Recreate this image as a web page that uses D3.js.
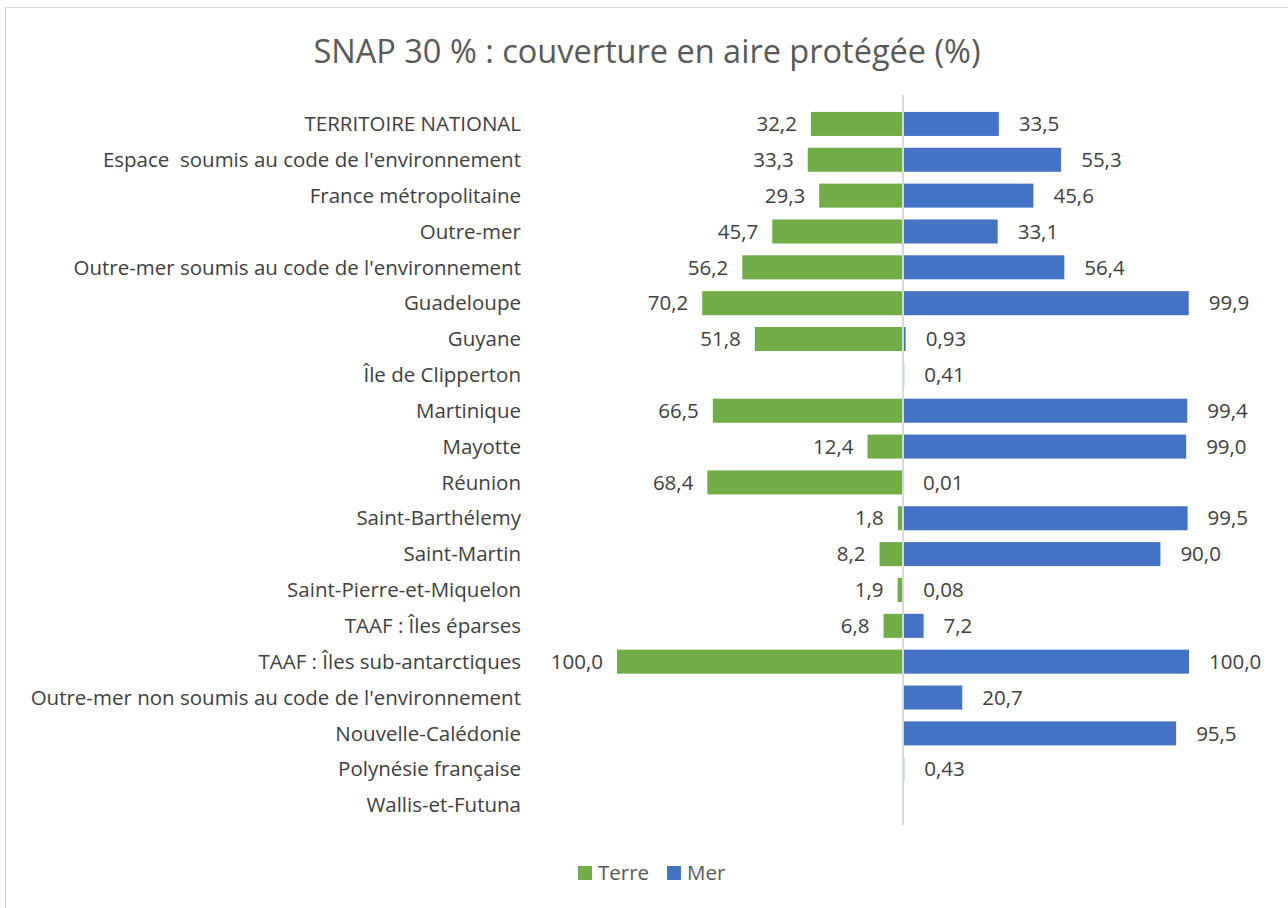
<!DOCTYPE html>
<html>
<head>
<meta charset="utf-8">
<script src="https://cdn.jsdelivr.net/npm/d3@7"></script>
<style>
  body { margin: 0; background: #fff; }
  svg { display: block; font-family: "Open Sans", "Noto Sans", sans-serif; }
  svg text { white-space: pre; }
</style>
</head>
<body>
<div id="main"></div>
<script>
const categories = [
    "TERRITOIRE NATIONAL",
    "Espace  soumis au code de l'environnement",
    "France métropolitaine",
    "Outre-mer",
    "Outre-mer soumis au code de l'environnement",
    "Guadeloupe",
    "Guyane",
    "Île de Clipperton",
    "Martinique",
    "Mayotte",
    "Réunion",
    "Saint-Barthélemy",
    "Saint-Martin",
    "Saint-Pierre-et-Miquelon",
    "TAAF : Îles éparses",
    "TAAF : Îles sub-antarctiques",
    "Outre-mer non soumis au code de l'environnement",
    "Nouvelle-Calédonie",
    "Polynésie française",
    "Wallis-et-Futuna"
];
const terre = [32.2, 33.3, 29.3, 45.7, 56.2, 70.2, 51.8, null, 66.5, 12.4, 68.4, 1.8, 8.2, 1.9, 6.8, 100.0, null, null, null, null];
const mer = [33.5, 55.3, 45.6, 33.1, 56.4, 99.9, 0.93, 0.41, 99.4, 99.0, 0.01, 99.5, 90.0, 0.08, 7.2, 100.0, 20.7, 95.5, 0.43, null];
const terreLabels = ["32,2", "33,3", "29,3", "45,7", "56,2", "70,2", "51,8", null, "66,5", "12,4", "68,4", "1,8", "8,2", "1,9", "6,8", "100,0", null, null, null, null];
const merLabels = ["33,5", "55,3", "45,6", "33,1", "56,4", "99,9", "0,93", "0,41", "99,4", "99,0", "0,01", "99,5", "90,0", "0,08", "7,2", "100,0", "20,7", "95,5", "0,43", null];
const series = [
    {name: "Terre", color: "#70AD47"},
    {name: "Mer", color: "#4472C4"}
];

const W = 1288, H = 908;
const svg = d3.select("#main").append("svg")
    .attr("width", W)
    .attr("height", H);

// chart frame
svg.append("rect")
    .attr("x", 5.5).attr("y", 7.5)
    .attr("width", W).attr("height", H)
    .attr("fill", "#fff")
    .attr("stroke", "#d9d9d9");

svg.append("text")
    .attr("x", 647).attr("y", 63)
    .attr("text-anchor", "middle")
    .attr("font-size", 32.5)
    .attr("fill", "#595959")
    .text("SNAP 30 % : couverture en aire protégée (%)");

const x = d3.scaleLinear().domain([-100, 100]).range([617, 1189]);
const y = d3.scaleBand().domain(categories).range([106, 823]).paddingInner(0.33).paddingOuter(0.165);

const rows = categories.map((c, i) => ({c, t: terre[i], m: mer[i], tl: terreLabels[i], ml: merLabels[i]}));
const fs = 20.5;

// Terre bars (to the left)
svg.append("g").selectAll("rect")
    .data(rows.filter(d => d.t != null))
    .join("rect")
    .attr("x", d => x(-d.t))
    .attr("y", d => y(d.c))
    .attr("width", d => x(0) - x(-d.t))
    .attr("height", y.bandwidth())
    .attr("fill", series[0].color);

// Mer bars (to the right)
svg.append("g").selectAll("rect")
    .data(rows.filter(d => d.m != null))
    .join("rect")
    .attr("x", x(0))
    .attr("y", d => y(d.c))
    .attr("width", d => Math.max(x(d.m) - x(0), 1))
    .attr("height", y.bandwidth())
    .attr("fill", series[1].color);

// center axis
svg.append("line")
    .attr("x1", x(0)).attr("x2", x(0))
    .attr("y1", 95).attr("y2", 825)
    .attr("stroke", "#d9d9d9")
    .attr("stroke-width", 2);

// category labels
svg.append("g").selectAll("text")
    .data(categories)
    .join("text")
    .attr("x", 521)
    .attr("y", c => y(c) + y.bandwidth() / 2)
    .attr("dy", "0.35em")
    .attr("text-anchor", "end")
    .attr("font-size", fs)
    .attr("fill", "#404040")
    .text(c => c);

// value labels
svg.append("g").selectAll("text")
    .data(rows.filter(d => d.tl != null))
    .join("text")
    .attr("x", d => x(-d.t) - 14)
    .attr("y", d => y(d.c) + y.bandwidth() / 2)
    .attr("dy", "0.35em")
    .attr("text-anchor", "end")
    .attr("font-size", fs)
    .attr("fill", "#404040")
    .text(d => d.tl);

svg.append("g").selectAll("text")
    .data(rows.filter(d => d.ml != null))
    .join("text")
    .attr("x", d => x(d.m) + 20)
    .attr("y", d => y(d.c) + y.bandwidth() / 2)
    .attr("dy", "0.35em")
    .attr("text-anchor", "start")
    .attr("font-size", fs)
    .attr("fill", "#404040")
    .text(d => d.ml);

// legend
const legend = svg.append("g").selectAll("g")
    .data(series)
    .join("g")
    .attr("transform", (d, i) => `translate(${i ? 667 : 578}, 866)`);
legend.append("rect")
    .attr("width", 14).attr("height", 14)
    .attr("fill", d => d.color);
legend.append("text")
    .attr("x", 20).attr("y", 7)
    .attr("dy", "0.35em")
    .attr("font-size", fs)
    .attr("fill", "#595959")
    .text(d => d.name);
</script>
</body>
</html>
